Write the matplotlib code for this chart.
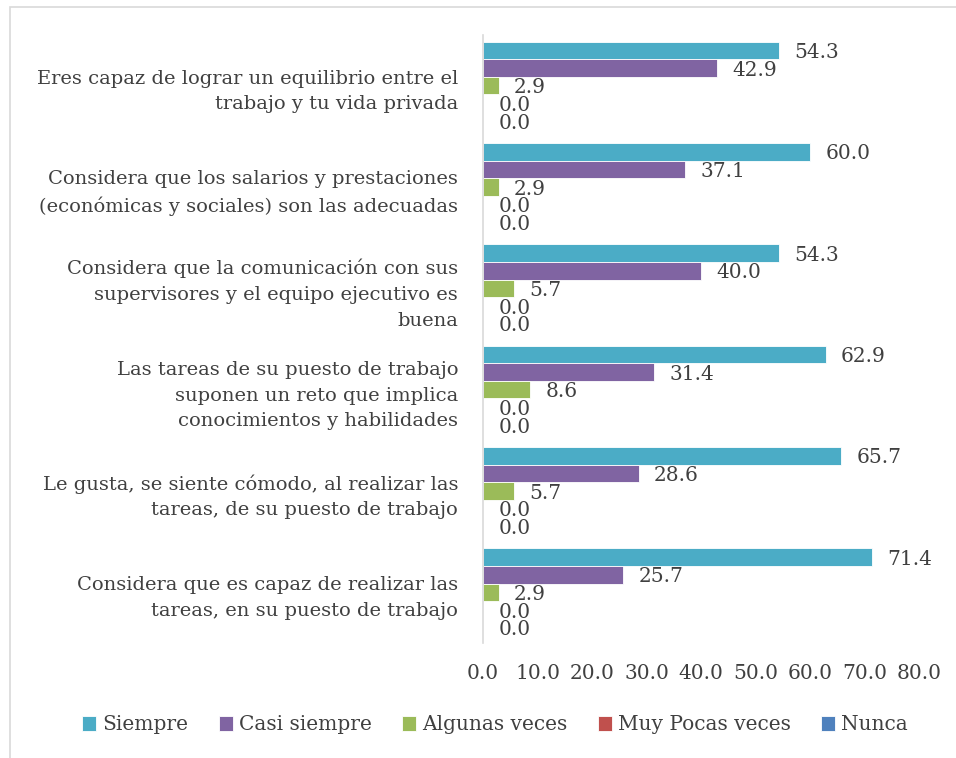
import numpy as np
import matplotlib.pyplot as plt
from matplotlib.patches import Rectangle

plt.rcParams['font.family'] = ['DejaVu Serif']

categories = [
    'Eres capaz de lograr un equilibrio entre el\ntrabajo y tu vida privada',
    'Considera que los salarios y prestaciones\n(económicas y sociales) son las adecuadas',
    'Considera que la comunicación con sus\nsupervisores y el equipo ejecutivo es\nbuena',
    'Las tareas de su puesto de trabajo\nsuponen un reto que implica\nconocimientos y habilidades',
    'Le gusta, se siente cómodo, al realizar las\ntareas, de su puesto de trabajo',
    'Considera que es capaz de realizar las\ntareas, en su puesto de trabajo',
]
series = ['Siempre', 'Casi siempre', 'Algunas veces', 'Muy Pocas veces', 'Nunca']
siempre = [54.3, 60.0, 54.3, 62.9, 65.7, 71.4]
casi_siempre = [42.9, 37.1, 40.0, 31.4, 28.6, 25.7]
algunas_veces = [2.9, 2.9, 5.7, 8.6, 5.7, 2.9]
muy_pocas = [0.0, 0.0, 0.0, 0.0, 0.0, 0.0]
nunca = [0.0, 0.0, 0.0, 0.0, 0.0, 0.0]
colors = ['#4BACC6', '#8064A2', '#9BBB59', '#C0504D', '#4F81BD']
xticks = [0, 10, 20, 30, 40, 50, 60, 70, 80]

values = [siempre, casi_siempre, algunas_veces, muy_pocas, nunca]
text_col = '#404040'
fs = 14.5

fig = plt.figure(figsize=(9.56, 7.58), dpi=100)
# chart area border (cropped on right/bottom like the source)
fig.patches.append(Rectangle((10 / 956, -0.01), 1.0, 1 - 7 / 758 + 0.01,
                             transform=fig.transFigure, fill=False,
                             edgecolor='#D9D9D9', lw=1.2))

ax = fig.add_axes([483 / 956, 1 - 643 / 758, (919 - 483) / 956, (643 - 35) / 758])

n = len(series)
bh = 0.174
y = np.arange(len(categories))
for i, (vals, c) in enumerate(zip(values, colors)):
    pos = y - (n - 1) / 2 * bh + i * bh
    ax.barh(pos, vals, height=bh, color=c, edgecolor='white', lw=0.6, label=series[i])
    for p, v in zip(pos, vals):
        ax.annotate(f'{v:.1f}', (v, p), xytext=(11, -1.5), textcoords='offset points',
                    ha='left', va='center', fontsize=fs, color=text_col)

ax.set_ylim(len(categories) - 0.5, -0.5)
ax.set_xlim(0, 80)
ax.set_xticks(xticks)
ax.set_xticklabels([f'{t:.1f}' for t in xticks], fontsize=fs, color=text_col)
ax.set_yticks(y)
ax.set_yticklabels(categories, fontsize=14, color=text_col, linespacing=1.55)
ax.tick_params(axis='x', length=0, pad=15)
ax.tick_params(axis='y', length=0, pad=18)
for s in ['top', 'right', 'bottom']:
    ax.spines[s].set_visible(False)
ax.spines['left'].set_color('#D9D9D9')
ax.spines['left'].set_linewidth(1.2)

leg = fig.legend(loc='center', bbox_to_anchor=(495 / 956, 1 - 725 / 758), ncol=5, frameon=False,
                 fontsize=fs, handlelength=0.7, handleheight=0.7, handletextpad=0.3,
                 columnspacing=1.5)
for t in leg.get_texts():
    t.set_color(text_col)

fig.savefig('out.png', dpi=100)
